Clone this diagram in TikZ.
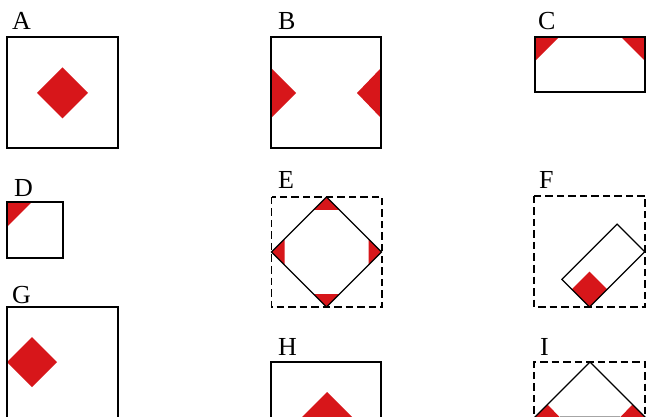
\documentclass[tikz,border=0pt]{standalone}
\usepackage{fontspec}
\setmainfont{Liberation Serif}
\definecolor{redfill}{RGB}{215,22,26}
\begin{document}
\begin{tikzpicture}[x=1pt,y=-1pt,
  frame/.style={draw=black,line width=1.3pt},
  dframe/.style={draw=black,line width=1.4pt,dash pattern=on 7.5pt off 4pt},
  edge/.style={draw=black,line width=1.2pt,line join=miter},
  piece/.style={fill=redfill},
  lbl/.style={anchor=base west,inner sep=0pt,font=\fontsize{26}{26}\selectfont}]
\useasboundingbox (0,0) rectangle (646,417);
% A
\node[lbl] (la) at (12,30) {A};
\fill[piece] (37,93)--(62.5,67.5)--(88,93)--(62.5,118.5)--cycle;
\draw[frame] (7,37) rectangle (118,148);
% B
\node[lbl] (lb) at (278,30) {B};
\fill[piece] (271,68)--(296,93)--(271,118)--cycle;
\fill[piece] (381,68)--(357,93)--(381,118)--cycle;
\draw[frame] (271,37) rectangle (381,148);
% C
\node[lbl] (lc) at (538,30) {C};
\fill[piece] (535,37)--(559,37)--(535,61)--cycle;
\fill[piece] (621,37)--(645,37)--(645,61)--cycle;
\draw[frame] (535,37) rectangle (645,92);
% D
\node[lbl] (ld) at (14,197) {D};
\fill[piece] (7,202)--(32,202)--(7,227)--cycle;
\draw[frame] (7,202) rectangle (63,258);
% G
\node[lbl] (lg) at (12,303) {G};
\fill[piece] (7,362)--(32,337)--(57,362)--(32,387)--cycle;
\draw[frame] (7,425)--(7,307)--(118,307)--(118,425);
% E
\node[lbl] (le) at (278,189) {E};
\fill[piece] (326.5,197)--(313.5,210)--(339.5,210)--cycle;
\fill[piece] (271.5,252)--(284.5,239)--(284.5,265)--cycle;
\fill[piece] (381.5,252)--(368.5,239)--(368.5,265)--cycle;
\fill[piece] (326.5,307)--(313.5,294)--(339.5,294)--cycle;
\draw[edge] (326.5,197)--(381.5,252)--(326.5,307)--(271.5,252)--cycle;
\draw[dframe] (271.5,197) rectangle (382,307);
% F
\node[lbl] (lf) at (539,189) {F};
\fill[piece] (589.5,307)--(607.2,289.3)--(589.5,271.6)--(571.8,289.3)--cycle;
\draw[edge] (589.5,307)--(644.7,251.8)--(617.1,224.2)--(561.9,279.4)--cycle;
\draw[dframe] (534,196) rectangle (645,307);
% H
\node[lbl] (lh) at (278,355) {H};
\fill[piece] (300,419)--(327,392)--(354,419)--cycle;
\draw[frame] (271,425)--(271,362)--(381,362)--(381,425);
% I
\node[lbl] (li) at (540,355) {I};
\fill[piece] (535,417.5)--(547.5,404.5)--(560,417.5)--cycle;
\fill[piece] (620,417.5)--(632.5,404.5)--(645,417.5)--cycle;
\draw[black!35,line width=1pt] (560,416.8)--(620,416.8);
\draw[edge] (533,419)--(590,362)--(647,419);
\draw[dframe] (534,425)--(534,362)--(645,362)--(645,425);
\end{tikzpicture}
\end{document}
